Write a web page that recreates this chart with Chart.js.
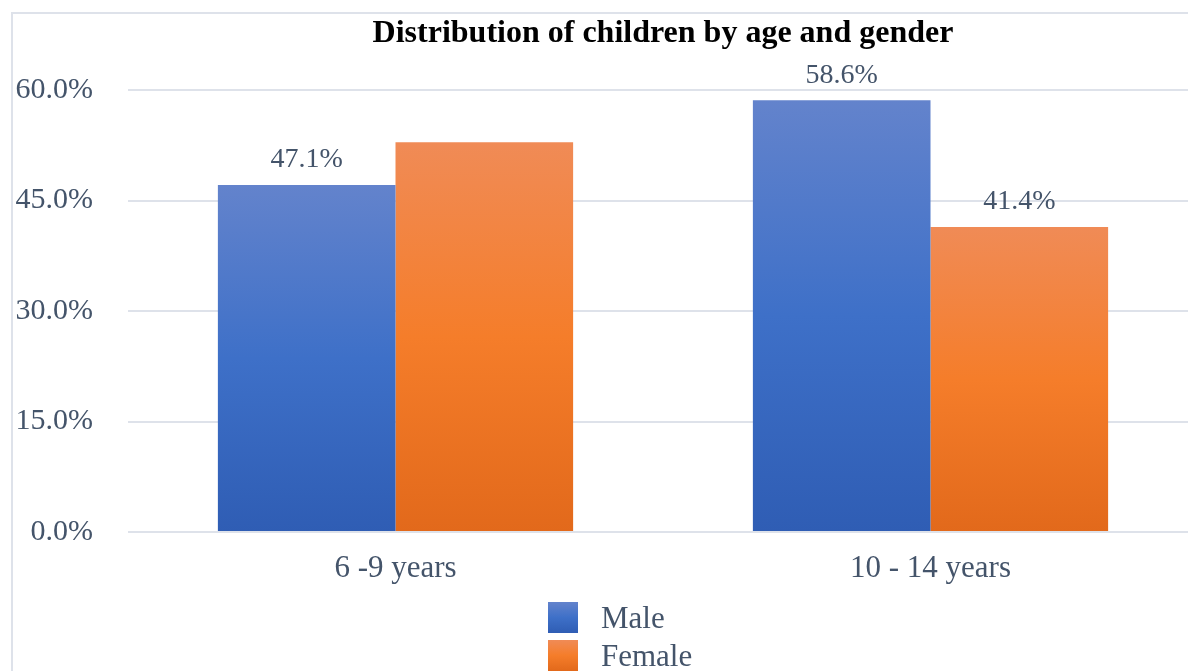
<!DOCTYPE html>
<html>
<head>
<meta charset="utf-8">
<script src="https://cdn.jsdelivr.net/npm/chart.js@4.4.1/dist/chart.umd.min.js"></script>
<style>
  html, body { margin: 0; padding: 0; background: #ffffff; overflow: hidden; width: 1188px; height: 671px; }
  #wrap { position: absolute; left: 0; top: 0; width: 1198px; height: 671px; }
  #frame { position: absolute; left: 11px; top: 12px; width: 1300px; height: 800px;
           border-top: 2px solid #dee2ea; border-left: 2px solid #dee2ea; pointer-events: none; }
  #legend { position: absolute; left: 548px; top: 602px; font-family: 'Liberation Serif', 'Times New Roman', serif;
            font-size: 31px; color: #44546a; }
  .row { display: flex; align-items: center; height: 31px; margin-bottom: 7px; }
  .box { width: 30px; height: 31px; margin-right: 23px; }
</style>
</head>
<body>
<div id="wrap"><canvas id="c"></canvas></div>
<div id="frame"></div>
<div id="legend"></div>
<script>
const categories = ['6 -9 years', '10 - 14 years'];
const seriesNames = ['Male', 'Female'];
const maleValues = [47.1, 58.6];
const femaleValues = [52.9, 41.4];
const maleLabels = ['47.1%', '58.6%'];
const femaleLabels = [null, '41.4%'];
const yTickValues = [0, 15, 30, 45, 60];
const titleText = 'Distribution of children by age and gender';

const gradStops = {
  Male: ['#6383cc', '#3e70c8', '#2f5db4'],
  Female: ['#f08b56', '#f57d2a', '#e2691b']
};

function barGradient(name) {
  return function (ctx) {
    const chart = ctx.chart;
    const stops = gradStops[name];
    if (!chart.chartArea || ctx.type !== 'data') return stops[1];
    const y = chart.scales.y;
    const top = y.getPixelForValue(ctx.raw);
    const bot = y.getPixelForValue(0);
    const g = chart.ctx.createLinearGradient(0, top, 0, bot);
    g.addColorStop(0, stops[0]);
    g.addColorStop(0.5, stops[1]);
    g.addColorStop(1, stops[2]);
    return g;
  };
}

const dataLabelPlugin = {
  id: 'dataLabels',
  afterDatasetsDraw(chart) {
    const ctx = chart.ctx;
    ctx.save();
    ctx.font = '28px "Liberation Serif", "Times New Roman", serif';
    ctx.fillStyle = '#44546a';
    ctx.textAlign = 'center';
    ctx.textBaseline = 'bottom';
    chart.data.datasets.forEach((ds, di) => {
      const meta = chart.getDatasetMeta(di);
      meta.data.forEach((el, i) => {
        const lbl = ds.valueLabels[i];
        if (lbl) ctx.fillText(lbl, el.x, el.y - 11);
      });
    });
    ctx.restore();
  }
};

const chart = new Chart(document.getElementById('c'), {
  type: 'bar',
  data: {
    labels: categories,
    datasets: [
      { label: seriesNames[0], data: maleValues, valueLabels: maleLabels, backgroundColor: barGradient('Male') },
      { label: seriesNames[1], data: femaleValues, valueLabels: femaleLabels, backgroundColor: barGradient('Female') }
    ]
  },
  options: {
    responsive: true,
    maintainAspectRatio: false,
    animation: false,
    layout: { padding: { top: 0, left: 0, right: 0, bottom: 71.5 } },
    datasets: { bar: { categoryPercentage: 0.664, barPercentage: 1.0 } },
    plugins: {
      legend: { display: false },
      tooltip: { enabled: false },
      title: {
        display: true,
        fullSize: false,
        text: titleText,
        color: '#000000',
        font: { family: '"Liberation Serif", "Times New Roman", serif', size: 32, weight: 'bold' },
        padding: { top: 15, bottom: 36.6 }
      }
    },
    scales: {
      x: {
        grid: { display: false, drawTicks: false },
        border: { display: false },
        ticks: {
          color: '#44546a',
          padding: 18,
          font: { family: '"Liberation Serif", "Times New Roman", serif', size: 31 }
        },
        afterFit(axis) { axis.height = 67.5; }
      },
      y: {
        min: 0,
        max: 60,
        afterBuildTicks(axis) { axis.ticks = yTickValues.map(v => ({ value: v })); },
        grid: { color: '#dee2ea', lineWidth: 2, drawTicks: false },
        border: { display: false },
        ticks: {
          color: '#44546a',
          padding: 35,
          font: { family: '"Liberation Serif", "Times New Roman", serif', size: 30 },
          callback: v => v.toFixed(1) + '%'
        },
        afterFit(axis) { axis.width = 128; }
      }
    }
  },
  plugins: [dataLabelPlugin]
});

// HTML legend built from series names
const legendEl = document.getElementById('legend');
seriesNames.forEach(name => {
  const s = gradStops[name];
  const row = document.createElement('div');
  row.className = 'row';
  const box = document.createElement('span');
  box.className = 'box';
  box.style.background = 'linear-gradient(to bottom,' + s[0] + ',' + s[1] + ' 50%,' + s[2] + ')';
  const txt = document.createElement('span');
  txt.textContent = name;
  row.appendChild(box);
  row.appendChild(txt);
  legendEl.appendChild(row);
});
</script>
</body>
</html>
